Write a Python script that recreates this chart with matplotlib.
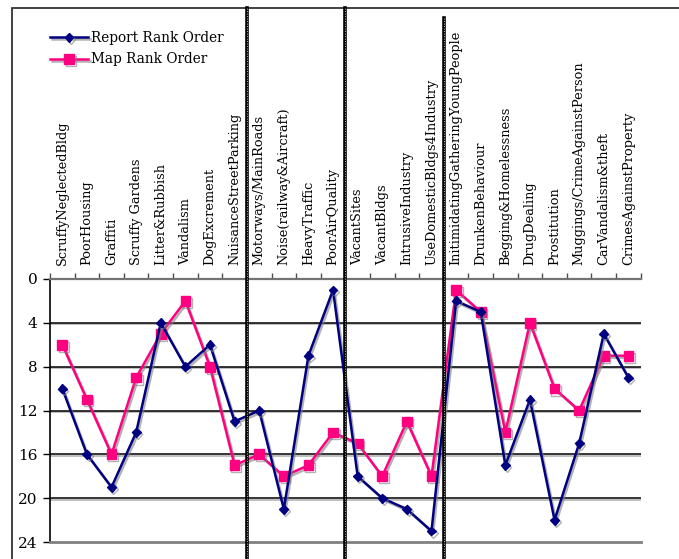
import matplotlib
matplotlib.use("Agg")
import matplotlib.pyplot as plt
import matplotlib.patheffects as pe
import matplotlib.transforms as mtransforms
from matplotlib.patches import Rectangle
from matplotlib.lines import Line2D

plt.rcParams['font.family'] = ['DejaVu Serif']

categories = [
    "ScruffyNeglectedBldg", "PoorHousing", "Graffiti", "Scruffy Gardens",
    "Litter&Rubbish", "Vandalism", "DogExcrement", "NuisanceStreetParking",
    "Motorways/MainRoads", "Noise(railway&Aircraft)", "HeavyTraffic", "PoorAirQuality",
    "VacantSites", "VacantBldgs", "IntrusiveIndustry", "UseDomesticBldgs4Industry",
    "InitimidatingGatheringYoungPeople", "DrunkenBehaviour", "Begging&Homelessness",
    "DrugDealing", "Prostitution", "Muggings/CrimeAgainstPerson",
    "CarVandalism&theft", "CrimesAgainstProperty",
]
report_rank = [10, 16, 19, 14, 4, 8, 6, 13, 12, 21, 7, 1,
               18, 20, 21, 23, 2, 3, 17, 11, 22, 15, 5, 9]
map_rank = [6, 11, 16, 9, 5, 2, 8, 17, 16, 18, 17, 14,
            15, 18, 13, 18, 1, 3, 14, 4, 10, 12, 7, 7]
group_breaks = [8, 12, 16]
y_ticks = [0, 4, 8, 12, 16, 20, 24]

W, H = 679, 559
fig = plt.figure(figsize=(W / 100, H / 100), dpi=100)
ax = fig.add_axes([50 / W, (H - 542) / H, 590.7 / W, 263 / H])

n = len(categories)
xs = [i + 0.5 for i in range(n)]
shadow = [pe.SimpleLineShadow(offset=(1.2, -1.5), shadow_color='0.5', alpha=0.6), pe.Normal()]

ax.plot(xs, report_rank, color='#000080', lw=1.8, marker='D', ms=4.5,
        path_effects=shadow, zorder=4, label='Report Rank Order')
ax.plot(xs, map_rank, color='#ff0080', lw=1.8, marker='s', ms=7,
        path_effects=shadow, zorder=3, label='Map Rank Order')

for v in y_ticks[1:-1]:
    ax.axhline(v, color='black', lw=1.1, zorder=1,
               path_effects=[pe.SimpleLineShadow(offset=(0, -1), shadow_color='0.6', alpha=0.8), pe.Normal()])

ax.set_xlim(0, n)
ax.set_ylim(24, 0)
ax.set_yticks(y_ticks)
ax.set_xticks(range(n + 1))
ax.xaxis.tick_top()
ax.tick_params(axis='x', direction='out', length=4, width=1, color='0.3', labeltop=False)
ax.tick_params(axis='y', direction='out', length=5, width=1, labelsize=11, pad=4)
ax.spines['right'].set_visible(False)
ax.spines['top'].set_color('0.45')
ax.spines['top'].set_linewidth(1.6)
ax.spines['bottom'].set_color('0.5')
ax.spines['bottom'].set_linewidth(2)
ax.spines['left'].set_linewidth(1.2)

# category names standing above the top axis
lab_tr = mtransforms.offset_copy(ax.transData, fig=fig, x=0, y=14, units='dots')
for x, name in zip(xs, categories):
    ax.text(x, 0, name, rotation=90, ha='center', va='bottom', fontsize=9.3,
            transform=lab_tr, clip_on=False)

# heavy separators between groups of issues
for b in group_breaks:
    xf = fig.transFigure.inverted().transform(ax.transData.transform((b, 0)))[0]
    top = 1 - (18 / H if b == 16 else 8 / H)
    fig.add_artist(Line2D([xf, xf], [0, top], color='black', lw=2.6,
                          transform=fig.transFigure))
    fig.add_artist(Line2D([xf, xf], [0, top], color='white', lw=0.6, ls=(0, (1, 2)),
                          transform=fig.transFigure))

# outer frame
fig.add_artist(Rectangle((12 / W, -0.1), 1.2, 1.1 - 8 / H, fill=False,
                         edgecolor='0.2', lw=1.3, transform=fig.transFigure))

fig.legend(loc='upper left', bbox_to_anchor=(50 / W, 1 - 31 / H), frameon=False,
           fontsize=9.8, handlelength=2.8, handletextpad=0.2, labelspacing=0.55,
           borderpad=0, borderaxespad=0)

fig.savefig("out.png", dpi=100)
